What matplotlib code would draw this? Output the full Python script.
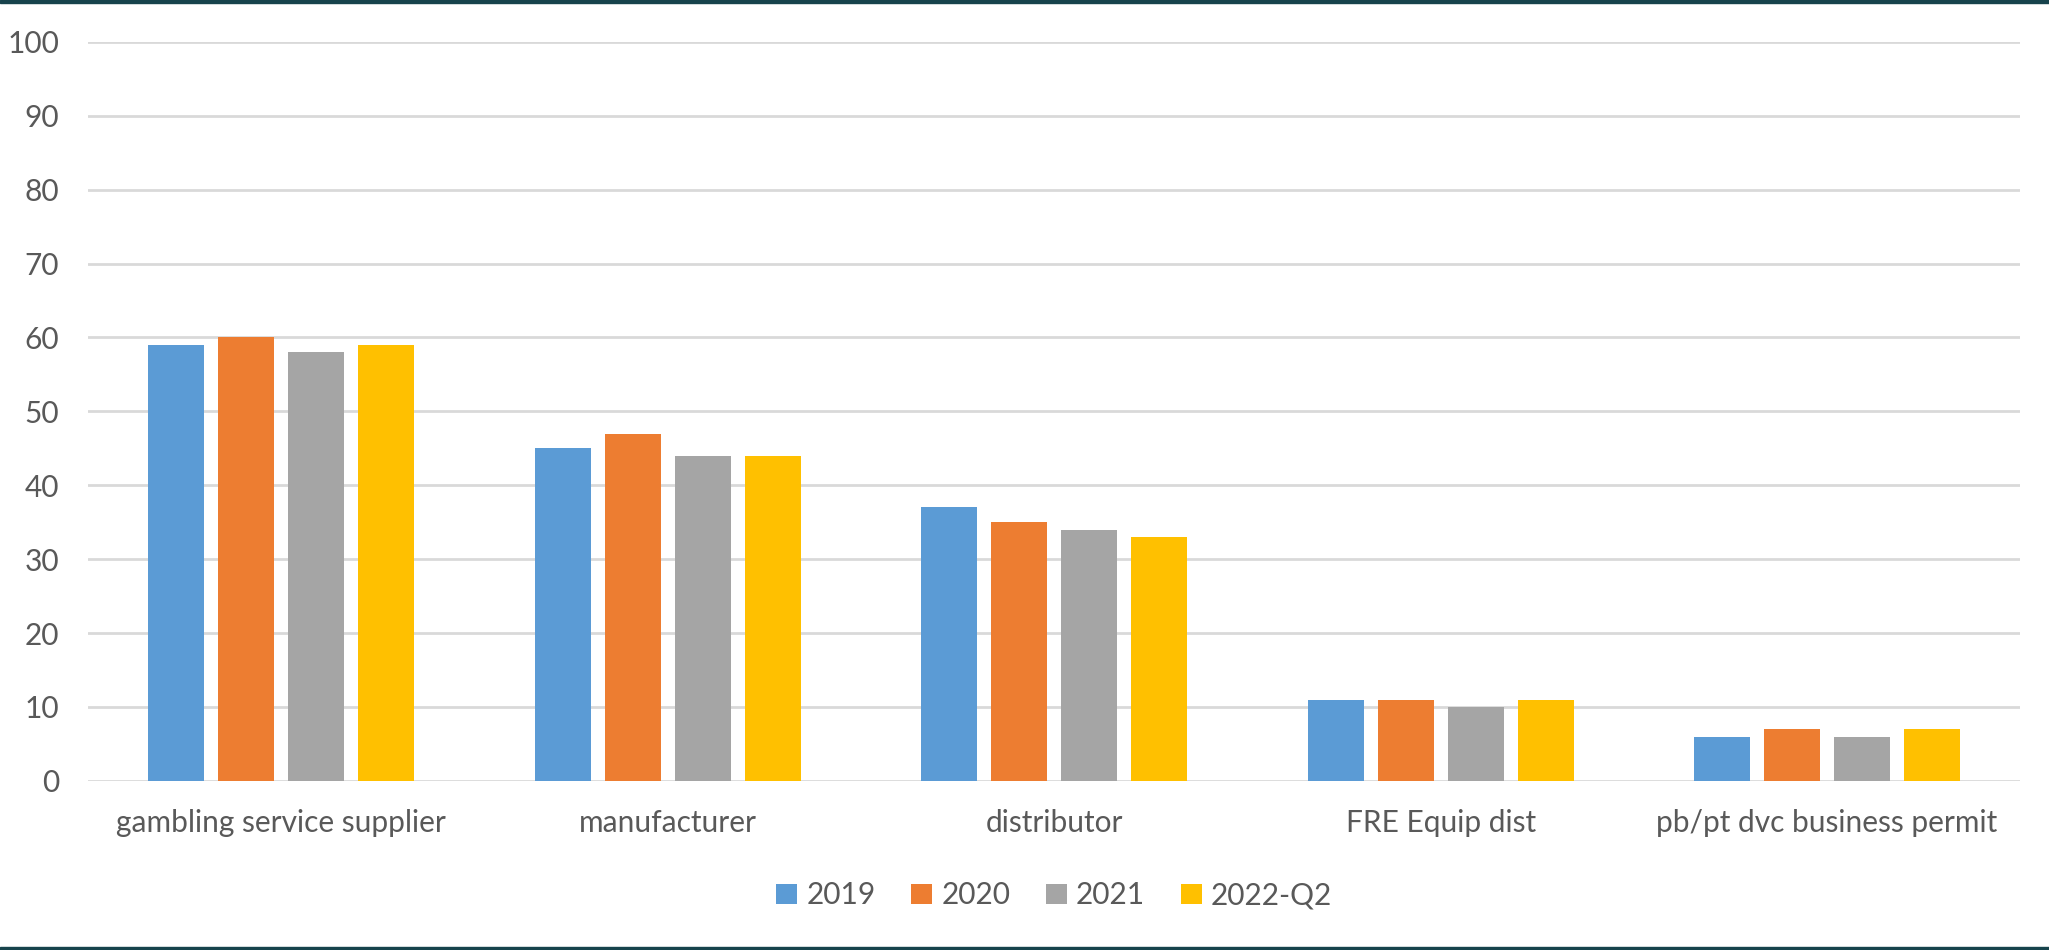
import numpy as np
import matplotlib.pyplot as plt
from matplotlib.patches import Rectangle

categories = ["gambling service supplier", "manufacturer", "distributor",
              "FRE Equip dist", "pb/pt dvc business permit"]
series = ["2019", "2020", "2021", "2022-Q2"]
v2019 = [59, 45, 37, 11, 6]
v2020 = [60, 47, 35, 11, 7]
v2021 = [58, 44, 34, 10, 6]
v2022q2 = [59, 44, 33, 11, 7]
colors = ["#5B9BD5", "#ED7D31", "#A5A5A5", "#FFC000"]

plt.rcParams['font.family'] = ['Lato', 'DejaVu Sans']

fig = plt.figure(figsize=(20.49, 9.5), dpi=100)
ax = fig.add_axes([0.043, 0.178, 0.943, 0.778])

x = np.arange(len(categories))
width = 0.145
step = 0.181
for i, (name, vals) in enumerate(zip(series, [v2019, v2020, v2021, v2022q2])):
    ax.bar(x + (i - 1.5) * step, vals, width, color=colors[i], label=name, zorder=3)

ax.set_xlim(-0.5, len(categories) - 0.5)
ax.set_ylim(0, 100)
ax.set_yticks(range(0, 101, 10))
ax.set_xticks(x)
ax.set_xticklabels(categories)
ax.yaxis.grid(True, color="#D9D9D9", linewidth=2, zorder=0)
ax.tick_params(axis="both", length=0, labelsize=21.5, colors="#595959")
ax.tick_params(axis="x", pad=20)
ax.tick_params(axis="y", pad=21)
for s in ax.spines.values():
    s.set_visible(False)

ax.legend(loc="center", bbox_to_anchor=(0.5, -0.155), ncol=4, frameon=False,
          fontsize=21.5, labelcolor="#595959", handlelength=0.7, handleheight=0.7,
          handletextpad=0.3, columnspacing=1.2)

# thin dark bands top and bottom
fig.add_artist(Rectangle((0, 0.997), 1, 0.003, transform=fig.transFigure, color="#17434C"))
fig.add_artist(Rectangle((0, 0), 1, 0.003, transform=fig.transFigure, color="#17434C"))

fig.savefig("out.png", dpi=100)
